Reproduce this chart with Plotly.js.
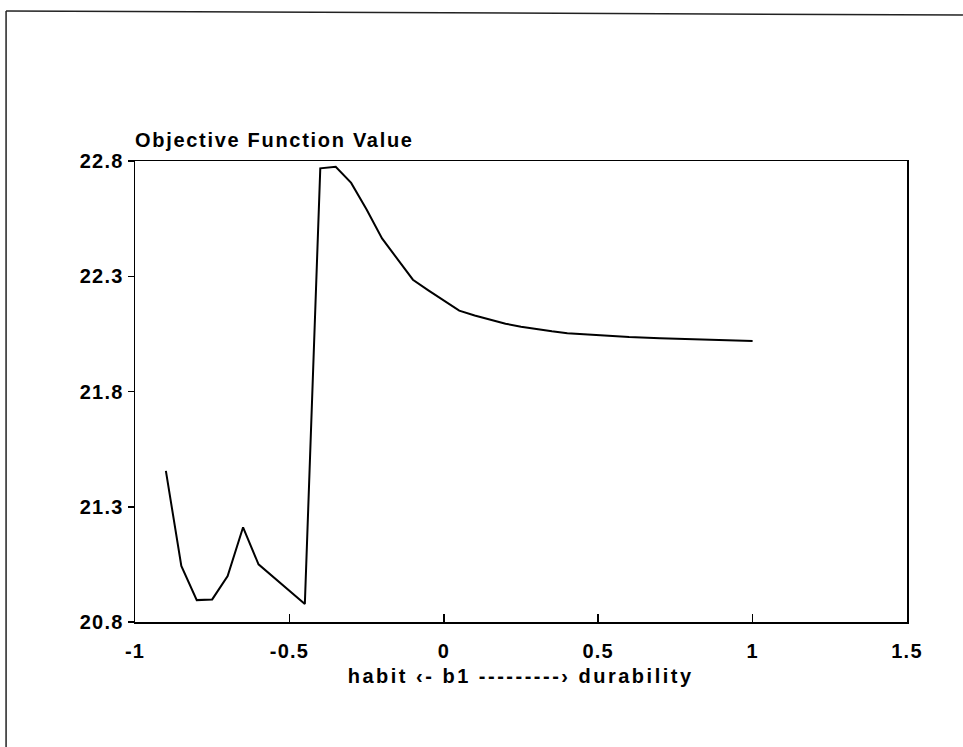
<!DOCTYPE html>
<html>
<head>
<meta charset="utf-8">
<script src="https://cdn.plot.ly/plotly-3.0.1.min.js"></script>
<style>
html,body{margin:0;padding:0;background:#fff;}
#chart{width:963px;height:747px;}
#chart .gtitle{letter-spacing:1.7px;}
#chart .xtick text, #chart .ytick text{letter-spacing:1.2px;}
#chart .annotation-text{letter-spacing:2.5px;}
</style>
</head>
<body>
<div id="chart"></div>
<script>
const b1 = [-0.90, -0.85, -0.80, -0.75, -0.70, -0.65, -0.60, -0.45, -0.40, -0.35, -0.30, -0.25, -0.20, -0.15, -0.10, -0.05, 0.00, 0.05, 0.10, 0.15, 0.20, 0.25, 0.30, 0.35, 0.40, 0.45, 0.50, 0.60, 0.70, 0.80, 0.90, 1.00];
const objective = [21.456, 21.043, 20.895, 20.898, 20.999, 21.211, 21.050, 20.878, 22.768, 22.775, 22.705, 22.590, 22.464, 22.374, 22.285, 22.239, 22.195, 22.151, 22.130, 22.111, 22.094, 22.081, 22.070, 22.061, 22.053, 22.048, 22.043, 22.036, 22.031, 22.026, 22.022, 22.019];
const yTicks = [20.8, 21.3, 21.8, 22.3, 22.8];
const yTickText = ["20.8", "21.3", "21.8", "22.3", "22.8"];
const xTicks = [-1, -0.5, 0, 0.5, 1, 1.5];
const xTickText = ["-1", "-0.5", "0", "0.5", "1", "1.5"];
const titleText = "Objective Function Value";
const xTitleText = "habit \u2039- b1 ---------\u203A durability";

const baseFont = {family: "Liberation Sans, Arial, sans-serif", size: 20, color: "#000", weight: "bold"};

const trace = {
  x: b1, y: objective, type: "scatter", mode: "lines",
  line: {color: "#000", width: 2}, hoverinfo: "skip"
};

const layout = {
  width: 963, height: 747,
  margin: {l: 135, r: 56, t: 161, b: 125},
  paper_bgcolor: "#fff", plot_bgcolor: "#fff",
  showlegend: false,
  font: baseFont,
  title: {text: titleText, x: 135/963, xanchor: "left", y: 1 - 140/747, yanchor: "middle", font: baseFont},
  xaxis: {
    range: [-1, 1.5], tickvals: xTicks, ticktext: xTickText,
    ticks: "inside", ticklen: 8, tickwidth: 1.5, tickcolor: "#000",
    ticklabelstandoff: 10,
    showline: true, mirror: true, linecolor: "#000", linewidth: 1.5,
    showgrid: false, zeroline: false,
    tickfont: baseFont
  },
  yaxis: {
    range: [20.8, 22.8], tickvals: yTicks, ticktext: yTickText,
    ticks: "outside", ticklen: 6, tickwidth: 1.5, tickcolor: "#000",
    showline: true, mirror: true, linecolor: "#000", linewidth: 1.5,
    showgrid: false, zeroline: false,
    tickfont: baseFont
  },
  annotations: [
    {text: xTitleText, xref: "paper", yref: "paper", x: 0.5, y: -0.117, xanchor: "center", yanchor: "middle", showarrow: false, font: baseFont}
  ],
  shapes: [
    {type: "line", xref: "paper", yref: "paper", x0: -0.167, y0: 1.3254, x1: 1.0725, y1: 1.3167, line: {color: "#222", width: 1.5}},
    {type: "line", xref: "paper", yref: "paper", x0: -0.167, y0: 1.3254, x1: -0.167, y1: -0.28, line: {color: "#222", width: 1.5}}
  ]
};

Plotly.newPlot("chart", [trace], layout, {staticPlot: true, displayModeBar: false});
</script>
</body>
</html>
